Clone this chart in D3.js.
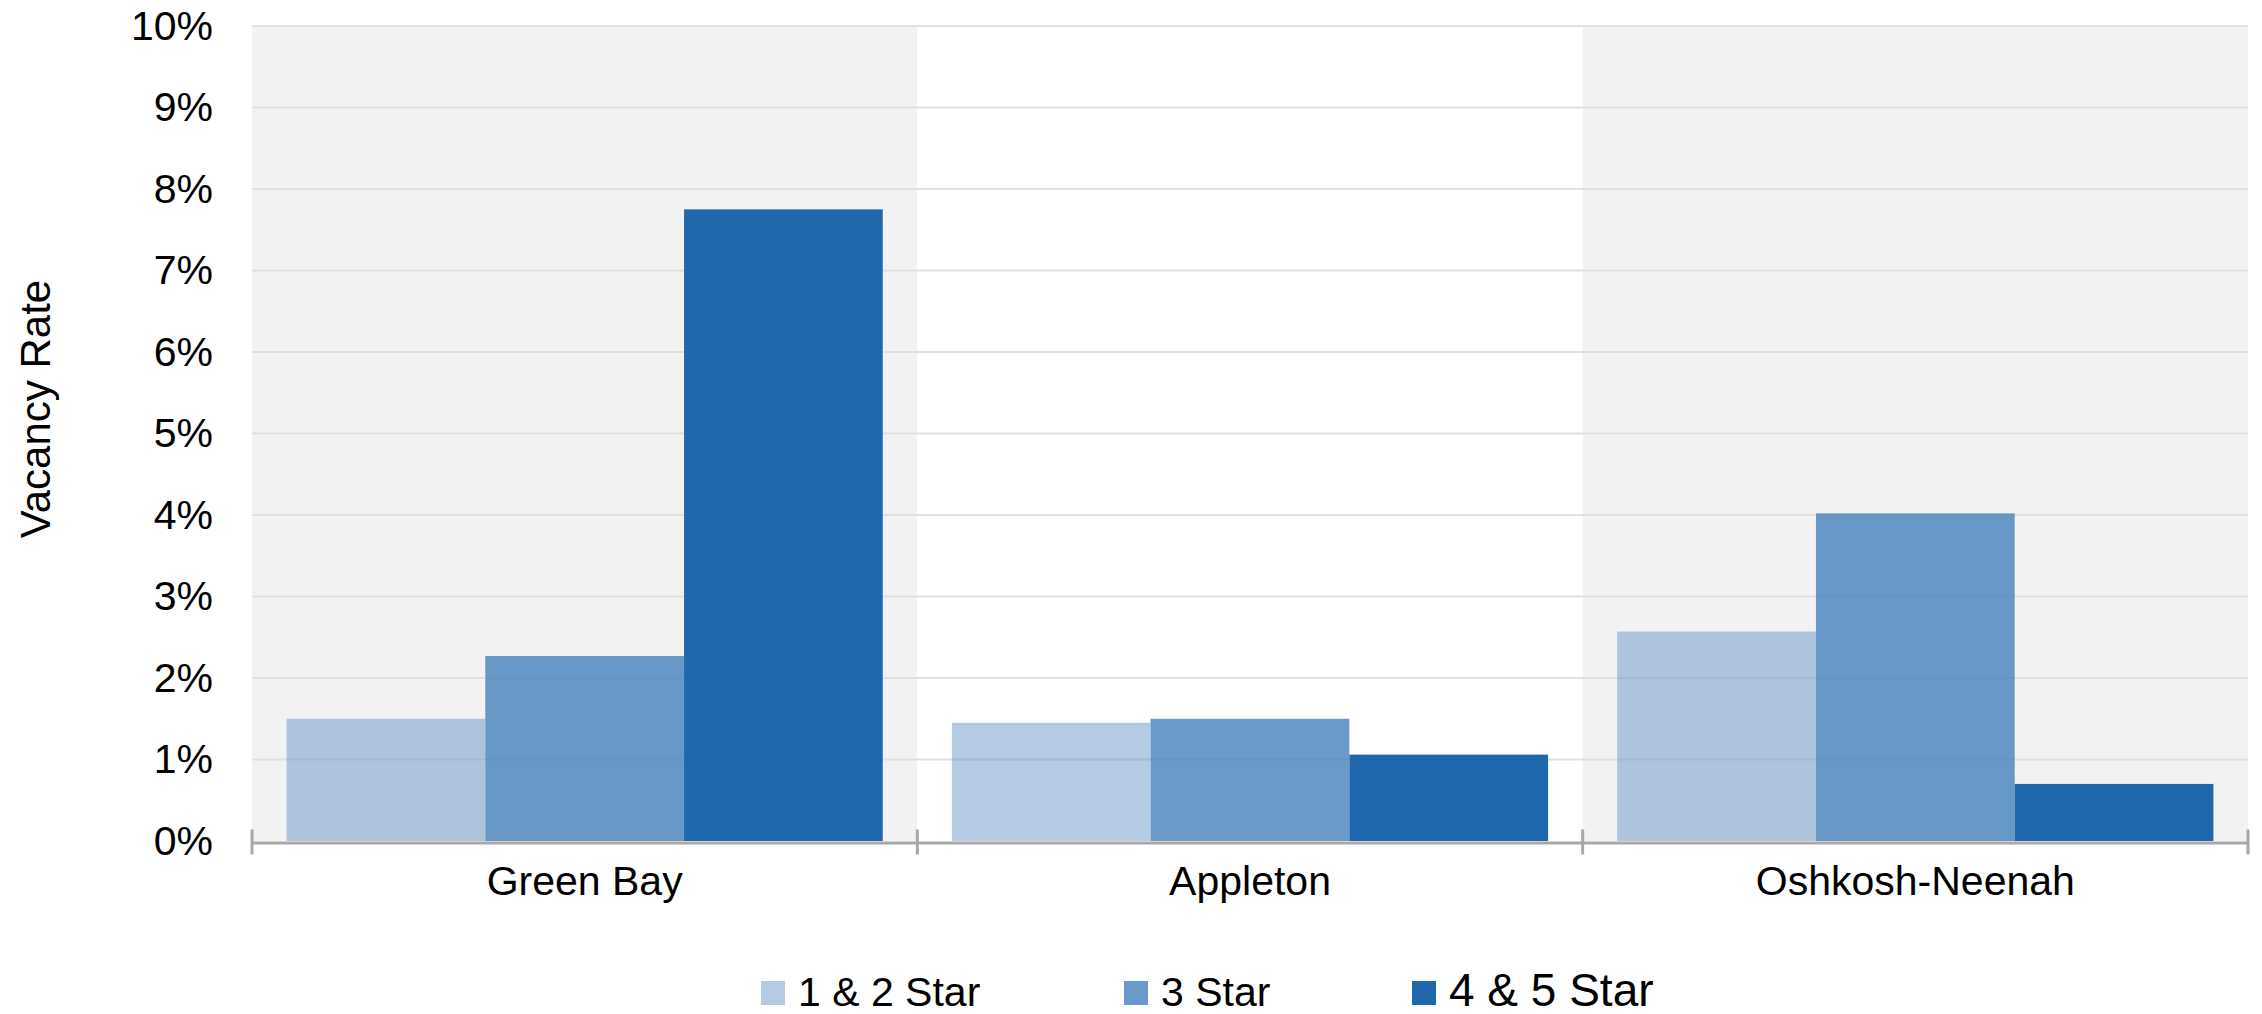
<!DOCTYPE html>
<html>
  <head>
    <meta charset="utf-8">
    <title>Vacancy Rate by Market</title>
    <script src="https://d3js.org/d3.v7.min.js"></script>
    <style>
      body { margin: 0; background: #fff; }
      text { font-family: "Liberation Sans", Arial, sans-serif; fill: #000; }
      .grid line { stroke: #e0e0e0; stroke-width: 2; }
      .axis path, .axis line { stroke: #a9a7a7; }
      .axis text { font-size: 41px; }
    </style>
  </head>
  <body>
    <script>
      // data
      var markets = ["Green Bay", "Appleton", "Oshkosh-Neenah"];
      var series = ["1 & 2 Star", "3 Star", "4 & 5 Star"];
      var oneTwoStar = [1.50, 1.45, 2.57];
      var threeStar = [2.27, 1.50, 4.02];
      var fourFiveStar = [7.75, 1.06, 0.70];
      var yTicks = [0, 1, 2, 3, 4, 5, 6, 7, 8, 9, 10];

      var values = [oneTwoStar, threeStar, fourFiveStar];
      var fills = ["rgb(88,139,193)", "rgb(69,129,188)", "#2068ae"];
      var opac = [0.45, 0.8, 1];
      var swatch = ["#b4cbe3", "#6a9acb", "#2068ae"];

      var width = 2262, height = 1014;
      var plotLeft = 252, plotRight = 2248, plotTop = 26, plotBottom = 841;

      var svg = d3.select("body").append("svg")
                  .attr("width", width)
                  .attr("height", height);

      var x0 = d3.scaleBand().domain(markets).range([plotLeft, plotRight]).padding(0);
      var x1 = d3.scaleBand().domain(series).range([0, x0.bandwidth()])
                 .paddingInner(0).paddingOuter(0.174);
      var y = d3.scaleLinear().domain([0, 10]).range([plotBottom, plotTop]);

      // alternating band backgrounds
      svg.selectAll(".band")
         .data(markets)
         .enter()
         .append("rect")
         .attr("x", function(d) { return x0(d); })
         .attr("y", y(10))
         .attr("width", x0.bandwidth())
         .attr("height", y(0) - y(10))
         .attr("fill", function(d, i) { return i % 2 === 0 ? "#f2f2f2" : "#ffffff"; });

      // gridlines
      svg.append("g")
         .attr("class", "grid")
         .selectAll("line")
         .data(yTicks.slice(1))
         .enter()
         .append("line")
         .attr("x1", plotLeft)
         .attr("x2", plotRight)
         .attr("y1", function(d) { return y(d); })
         .attr("y2", function(d) { return y(d); });

      // bars
      var groups = svg.selectAll(".market")
                      .data(markets)
                      .enter()
                      .append("g")
                      .attr("transform", function(d) { return "translate(" + x0(d) + ",0)"; });

      groups.selectAll("rect")
            .data(function(d, i) {
              return series.map(function(s, j) { return { s: s, j: j, v: values[j][i] }; });
            })
            .enter()
            .append("rect")
            .attr("x", function(d) { return x1(d.s); })
            .attr("y", function(d) { return y(d.v); })
            .attr("width", x1.bandwidth())
            .attr("height", function(d) { return y(0) - y(d.v); })
            .attr("fill", function(d) { return fills[d.j]; })
            .attr("fill-opacity", function(d) { return opac[d.j]; });

      // y axis (labels only)
      var yAxis = svg.append("g")
                     .attr("class", "axis")
                     .attr("transform", "translate(" + (plotLeft - 39) + ",0)")
                     .call(d3.axisLeft(y).tickValues(yTicks).tickSize(0).tickPadding(0)
                             .tickFormat(function(d) { return d + "%"; }));
      yAxis.select(".domain").remove();

      // x axis
      var xAxis = svg.append("g")
                     .attr("class", "axis")
                     .attr("transform", "translate(0," + (plotBottom + 1.5) + ")")
                     .call(d3.axisBottom(x0).tickSize(0).tickPadding(23));
      xAxis.select(".domain").attr("stroke-width", 3);

      // boundary ticks between categories
      var bounds = markets.map(function(d) { return x0(d); }).concat([x0(markets[2]) + x0.bandwidth()]);
      xAxis.selectAll(".bound")
           .data(bounds)
           .enter()
           .append("line")
           .attr("x1", function(d) { return d; })
           .attr("x2", function(d) { return d; })
           .attr("y1", -13)
           .attr("y2", 12)
           .attr("stroke-width", 3);

      // y axis title
      svg.append("text")
         .attr("transform", "translate(50,409) rotate(-90)")
         .attr("text-anchor", "middle")
         .style("font-size", "42px")
         .text("Vacancy Rate");

      // legend
      var legX = [761, 1124, 1412];
      var legSize = [41, 41, 46];
      var legend = svg.append("g").attr("class", "legend");
      series.forEach(function(s, i) {
        legend.append("rect")
              .attr("x", legX[i])
              .attr("y", 981)
              .attr("width", 24)
              .attr("height", 24)
              .attr("fill", swatch[i]);
        legend.append("text")
              .attr("x", legX[i] + 37)
              .attr("y", 1006)
              .style("font-size", legSize[i] + "px")
              .text(s);
      });
    </script>
  </body>
</html>
